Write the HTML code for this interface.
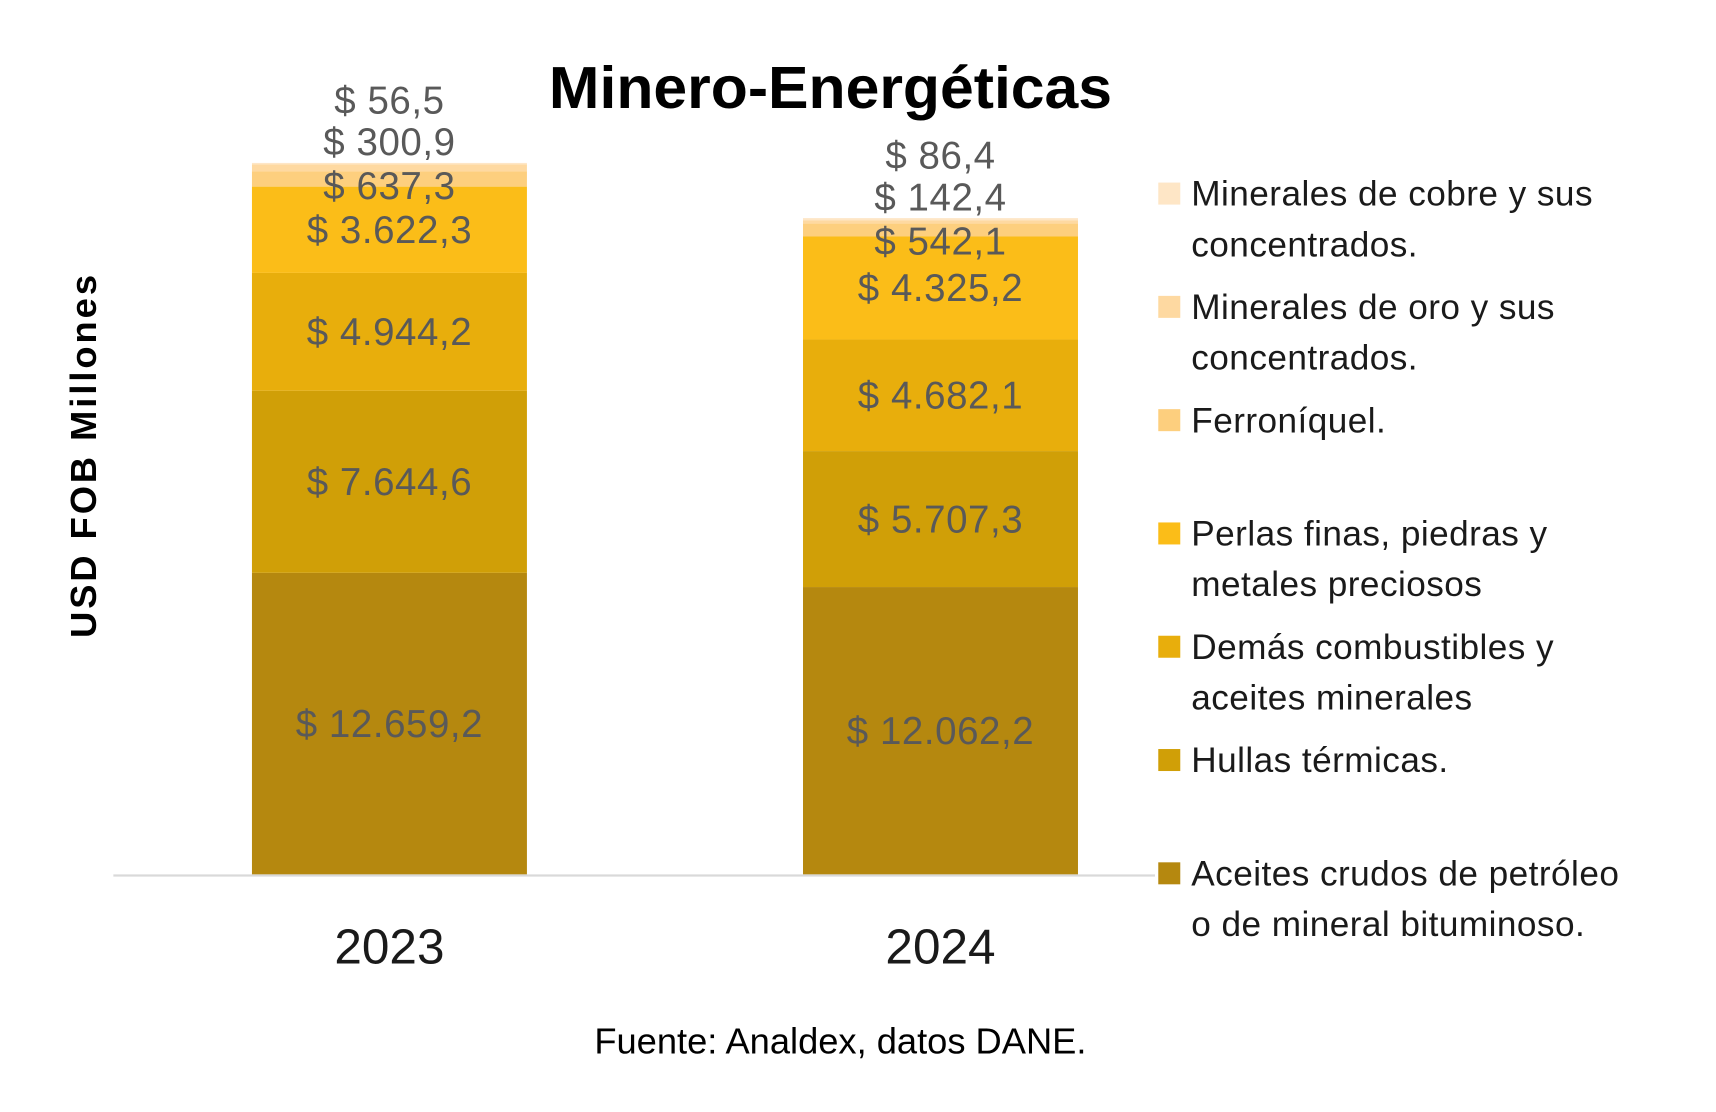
<!DOCTYPE html>
<html><head><meta charset="utf-8"><style>
html,body{margin:0;padding:0;background:#fff;}
svg{display:block;font-family:"Liberation Sans",sans-serif;}
</style></head><body>
<svg id="chart" width="1716" height="1112" viewBox="0 0 1560 1011" xmlns="http://www.w3.org/2000/svg">
<rect x="0" y="0" width="1560" height="1011" fill="#fff"/>
<text x="755" y="98" text-anchor="middle" font-size="54" font-weight="bold" fill="#000" textLength="512" lengthAdjust="spacingAndGlyphs">Minero-Energéticas</text>
<text transform="translate(87,415) rotate(-90)" text-anchor="middle" font-size="33" font-weight="bold" fill="#000" textLength="330" lengthAdjust="spacing">USD FOB Millones</text>
<g id="bars"></g>
<line x1="103" y1="796" x2="1050" y2="796" stroke="#d9d9d9" stroke-width="2"/>
<g id="legend"></g>
<text x="764" y="958" text-anchor="middle" font-size="33" fill="#000">Fuente: Analdex, datos DANE.</text>
</svg>
<script>
const categories = ["2023", "2024"];
const seriesNames = ["Aceites crudos de petróleo o de mineral bituminoso.", "Hullas térmicas.", "Demás combustibles y aceites minerales", "Perlas finas, piedras y metales preciosos", "Ferroníquel.", "Minerales de oro y sus concentrados.", "Minerales de cobre y sus concentrados."];
const values2023 = [12659.2, 7644.6, 4944.2, 3622.3, 637.3, 300.9, 56.5];
const values2024 = [12062.2, 5707.3, 4682.1, 4325.2, 542.1, 142.4, 86.4];
const valueLabels2023 = ["$ 12.659,2", "$ 7.644,6", "$ 4.944,2", "$ 3.622,3", "$ 637,3", "$ 300,9", "$ 56,5"];
const valueLabels2024 = ["$ 12.062,2", "$ 5.707,3", "$ 4.682,1", "$ 4.325,2", "$ 542,1", "$ 142,4", "$ 86,4"];

const colors = ["#B5880F", "#D09F07", "#E8AE0C", "#FBBD18", "#FDCF7E", "#FED9A1", "#FEE6C6"];
const NS = "http://www.w3.org/2000/svg";
const baseY = 795, pxPerUnit = 0.02166, barW = 250;
const xCenter = i => 354 + i * 501;
const yScale = v => v * pxPerUnit;
const bars = document.getElementById('bars');
const allVals = [values2023, values2024];
const allLabels = [valueLabels2023, valueLabels2024];

categories.forEach((cat, ci) => {
  const vals = allVals[ci];
  let y = baseY;
  const segs = [];
  vals.forEach((v, si) => {
    const h = yScale(v);
    y -= h;
    const r = document.createElementNS(NS, 'rect');
    
    
    r.setAttribute('x', xCenter(ci) - barW / 2);
    r.setAttribute('y', y);
    r.setAttribute('width', barW);
    r.setAttribute('height', h);
    r.setAttribute('fill', colors[si]);
    bars.appendChild(r);
    segs.push({ top: y, h: h });
  });
  const top = y;
  vals.forEach((v, si) => {
    let cy;
    if (si < 4) cy = segs[si].top + segs[si].h / 2;
    else cy = top - 57 + (6 - si) * 38 + (si === 4 ? 2 : 0);
    const t = document.createElementNS(NS, 'text');
    
    
    t.setAttribute('x', xCenter(ci));
    t.setAttribute('y', cy + 12);
    t.setAttribute('text-anchor', 'middle');
    t.setAttribute('font-size', '35');
    t.setAttribute('letter-spacing', '0.5');
    t.setAttribute('fill', '#595959');
    t.textContent = allLabels[ci][si];
    bars.appendChild(t);
  });
  const xl = document.createElementNS(NS, 'text');
  
  
  xl.setAttribute('x', xCenter(ci));
  xl.setAttribute('y', 876);
  xl.setAttribute('text-anchor', 'middle');
  xl.setAttribute('font-size', '45');
  xl.setAttribute('fill', '#1a1a1a');
  xl.textContent = cat;
  bars.appendChild(xl);
});

const legendLines = [
  ["Aceites crudos de petróleo", "o de mineral bituminoso."],
  ["Hullas térmicas."],
  ["Demás combustibles y", "aceites minerales"],
  ["Perlas finas, piedras y", "metales preciosos"],
  ["Ferroníquel."],
  ["Minerales de oro y sus", "concentrados."],
  ["Minerales de cobre y sus", "concentrados."]
];
const legendY = [794, 691, 588, 485, 382, 279, 176];
const legend = document.getElementById('legend');
legendLines.forEach((lines, si) => {
  const g = document.createElementNS(NS, 'g');
  
  
  const sq = document.createElementNS(NS, 'rect');
  
  
  sq.setAttribute('x', 1053);
  sq.setAttribute('y', legendY[si] - 10);
  sq.setAttribute('width', 20);
  sq.setAttribute('height', 20);
  sq.setAttribute('fill', colors[si]);
  g.appendChild(sq);
  lines.forEach((ln, li) => {
    const t = document.createElementNS(NS, 'text');
    
    
    t.setAttribute('x', 1083);
    t.setAttribute('y', legendY[si] + 11 + li * 46);
    t.setAttribute('font-size', '32');
    t.setAttribute('letter-spacing', '0.4');
    t.setAttribute('fill', '#1a1a1a');
    t.textContent = ln;
    g.appendChild(t);
  });
  legend.appendChild(g);
});
</script>
</body></html>
